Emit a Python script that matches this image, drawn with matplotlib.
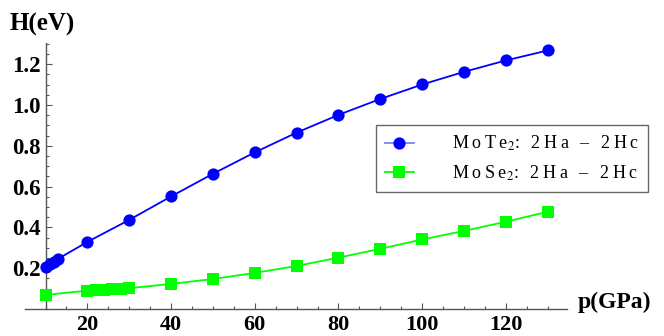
import matplotlib
matplotlib.use("Agg")
import matplotlib.pyplot as plt
from matplotlib.ticker import MultipleLocator, FixedLocator

plt.rcParams["font.family"] = ["Liberation Serif", "DejaVu Serif"]
plt.rcParams["mathtext.fontset"] = "stix"

# Pressure (GPa) and enthalpy difference H (eV)
p_mote2 = [10, 11, 12, 13, 20, 30, 40, 50, 60, 70, 80, 90, 100, 110, 120, 130]
h_mote2 = [0.206, 0.219, 0.232, 0.246, 0.329, 0.437, 0.552, 0.663, 0.768,
           0.865, 0.952, 1.030, 1.101, 1.163, 1.219, 1.268]

p_mose2 = [10, 20, 22, 24, 26, 28, 30, 40, 50, 60, 70, 80, 90, 100, 110, 120, 130]
h_mose2 = [0.069, 0.090, 0.093, 0.095, 0.097, 0.100, 0.102, 0.123, 0.147,
           0.177, 0.211, 0.252, 0.295, 0.341, 0.383, 0.428, 0.477]

x_ticks = [20, 40, 60, 80, 100, 120]
y_ticks = [0.2, 0.4, 0.6, 0.8, 1.0, 1.2]
label_mote2 = "MoTe$_2$: 2Ha – 2Hc"
label_mose2 = "MoSe$_2$: 2Ha – 2Hc"

THIN = "\u2009"


def tracked(text, gap=THIN):
    """Loosen letter spacing outside $...$ math runs."""
    parts = text.split("$")
    for i in range(0, len(parts), 2):
        parts[i] = gap.join(parts[i])
    return "$".join(parts)


W, H = 664, 336
fig = plt.figure(figsize=(W / 100, H / 100), dpi=100)
ax = fig.add_axes([25 / W, (H - 309) / H, (567 - 25) / W, (309 - 43.3) / H])

ax.plot(p_mote2, h_mote2, color="#0000ff", lw=1.3, marker="o", ms=8.8,
        markeredgewidth=0, label=tracked(label_mote2), zorder=3)
ax.plot(p_mose2, h_mose2, color="#00ff00", lw=1.3, marker="s", ms=8.3,
        markeredgewidth=0, label=tracked(label_mose2), zorder=3)

ax.set_xlim(5.1, 134.6)
ax.set_ylim(0, 1.303)

for s in ("top", "right"):
    ax.spines[s].set_visible(False)
ax.spines["left"].set_position(("data", 10))
ax.spines["bottom"].set_position(("data", 0))
for s in ("left", "bottom"):
    ax.spines[s].set_color("#555555")
    ax.spines[s].set_linewidth(1.0)

ax.xaxis.set_major_locator(FixedLocator(x_ticks))
ax.xaxis.set_minor_locator(MultipleLocator(5))
ax.yaxis.set_major_locator(FixedLocator(y_ticks))
ax.yaxis.set_minor_locator(MultipleLocator(0.05))
ax.set_xticklabels([str(v) for v in x_ticks])
ax.set_yticklabels([f"{v:.1f}" for v in y_ticks])

ax.tick_params(which="both", direction="in", color="#555555", width=0.8)
ax.tick_params(which="major", length=4.2)
ax.tick_params(which="minor", length=2.4)
ax.tick_params(axis="x", which="major", pad=4, labelsize=16)
ax.tick_params(axis="y", which="major", pad=3.5, labelsize=16.5)
for lab in ax.get_xticklabels() + ax.get_yticklabels():
    lab.set_fontweight("bold")

fig.text(10 / W, 1 - 24 / H, "H(eV)", fontsize=18,
         fontweight="bold", ha="left", va="center")
fig.text(578 / W, 1 - 302 / H, "p(GPa)", fontsize=17,
         fontweight="bold", ha="left", va="center")

leg = ax.legend(loc="upper left", bbox_to_anchor=(376 / W, 1 - 125 / H),
                bbox_transform=fig.transFigure, fontsize=13, frameon=True,
                fancybox=False, edgecolor="#666666", framealpha=1,
                handlelength=1.6, handletextpad=2.1, borderpad=0.5,
                labelspacing=0.55, borderaxespad=0)
leg.get_frame().set_linewidth(1.0)
for line, face, col in zip(leg.get_lines(), ("#0000ff", "#00ff00"),
                           ("#7f7fff", "#00ff00")):
    line.set_color(col)
    line.set_markerfacecolor(face)

fig.savefig("out.png", dpi=100)
